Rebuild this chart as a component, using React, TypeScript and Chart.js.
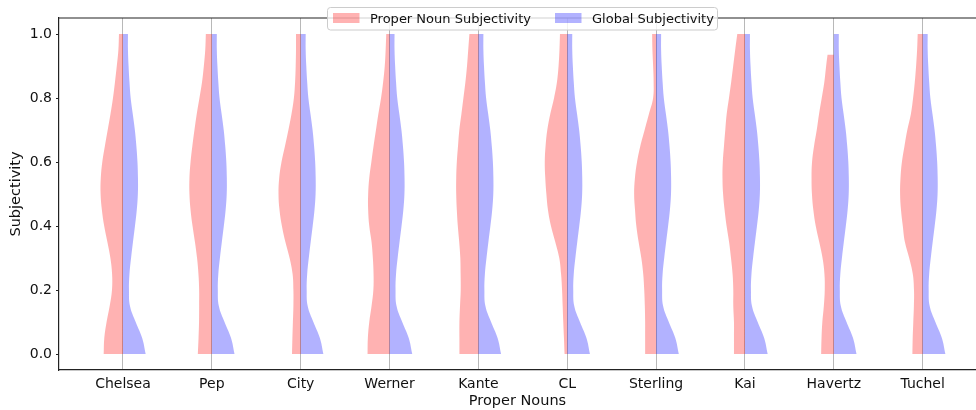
import React, { useEffect, useRef } from 'react';
import { Chart, registerables } from 'chart.js';

Chart.register(...registerables);

// ---------------- data ----------------
const CATEGORIES = ['Chelsea', 'Pep', 'City', 'Werner', 'Kante', 'CL', 'Sterling', 'Kai', 'Havertz', 'Tuchel'];

// subjectivity levels at which the density estimates are read
const Y_LEVELS = [0, 0.05, 0.1, 0.15, 0.2, 0.25, 0.3, 0.35, 0.4, 0.45, 0.5, 0.55, 0.6, 0.65, 0.7, 0.75, 0.8, 0.85, 0.9, 0.95, 1.0];
const Y_TICKS = [0, 0.2, 0.4, 0.6, 0.8, 1.0];

// global subjectivity density (same distribution shown on every right half)
const GLOBAL_DENSITY = [22.7, 19.2, 12.7, 7, 6, 6.5, 8.1, 10, 12, 13.8, 14.9, 15, 14.5, 13.4, 11.9, 9.8, 7.7, 6.5, 5.6, 5, 5];

// proper-noun subjectivity densities (left halves)
const CHELSEA_DENSITY = [19.3, 18.7, 16.4, 13.3, 11, 10.9, 12.6, 15.6, 18.8, 21.1, 22.4, 22.2, 20.7, 18.1, 15.3, 12.5, 10, 8, 6.2, 4.6, 4];
const PEP_DENSITY = [14, 13.3, 12.8, 12.7, 12.7, 13.4, 14.8, 16.9, 19.3, 21.3, 22.4, 22.4, 21.3, 19.5, 17.4, 15.1, 12.4, 9.8, 8, 6.6, 6];
const CITY_DENSITY = [8.7, 8.3, 7.8, 7.3, 7.3, 8.1, 11.1, 15.3, 18.8, 21.2, 22.2, 21.5, 19.2, 15.7, 12.3, 9.2, 6.8, 5.6, 5, 4.7, 4.7];
const WERNER_DENSITY = [22, 21.7, 20.3, 18, 16.2, 16, 16.7, 18, 20.3, 21.4, 21.4, 20.3, 18.2, 16, 13.6, 11.2, 8.5, 6.4, 4.8, 3.9, 3.3];
const KANTE_DENSITY = [19, 19, 19, 18.4, 17.7, 17.8, 18.1, 19.2, 20.6, 21.6, 22.2, 22.2, 21.6, 20.4, 19.1, 17, 15, 13, 11.4, 10.2, 9];
const CL_DENSITY = [2.7, 3.3, 4, 4.6, 5.2, 6.2, 8, 12, 16.3, 19.3, 20.9, 22, 22.5, 21.7, 20, 17, 13.2, 10.3, 8.7, 7.8, 7.3];
const STERLING_DENSITY = [11, 11, 11, 11.3, 11.9, 12.9, 14.8, 17.5, 19.8, 21.1, 22, 21.2, 19.1, 15.8, 11.5, 7.2, 3, 2.5, 3, 3.7, 4];
const KAI_DENSITY = [11, 11, 11, 11.7, 11.7, 12.4, 14, 15.9, 18.4, 20.4, 21.9, 22.5, 22.2, 21, 19.7, 18.3, 16, 13.8, 11.8, 9.8, 7.7];
const HAVERTZ_DENSITY = [12.7, 12.3, 11.5, 10, 9.1, 9.4, 11.3, 14.6, 18.1, 20.5, 21.9, 22.3, 21.8, 19.8, 17.1, 14.8, 12.1, 9.5, 7.7, 5.7, 5.7];
const TUCHEL_DENSITY = [10.3, 10, 9.4, 8.8, 8.7, 9.9, 13.5, 17.8, 19.9, 21.7, 22.6, 22.2, 20.8, 18.2, 15.4, 11.8, 9.6, 7.9, 6.6, 5.6, 5];

// highest observed proper-noun subjectivity per category (violins are cut at data range)
const PROPER_MAX = [1, 1, 1, 1, 1, 1, 1, 1, 0.935, 1];
const GLOBAL_MAX = 1;

const PROPER_DENSITIES = [
  CHELSEA_DENSITY, PEP_DENSITY, CITY_DENSITY, WERNER_DENSITY, KANTE_DENSITY,
  CL_DENSITY, STERLING_DENSITY, KAI_DENSITY, HAVERTZ_DENSITY, TUCHEL_DENSITY,
];

// ---------------- styling ----------------
const DENSITY_TO_X = 1 / 88.9; // density units -> category-axis units
const RED = 'rgba(255,0,0,0.3)';
const BLUE = 'rgba(0,0,255,0.3)';
const SPINE = '#222222';
const GRID = '#b8b8b8';
const FONT = 'DejaVu Sans';

// builds the outline of one half violin; corner points are doubled so the
// spline keeps sharp corners and straight flat ends
function halfViolin(center: number, density: number[], maxY: number, side: number) {
  const edge: { x: number; y: number }[] = [];
  for (let k = 0; k < Y_LEVELS.length; k++) {
    const y = Y_LEVELS[k];
    if (y < maxY - 1e-9) {
      edge.push({ x: center + side * density[k] * DENSITY_TO_X, y });
    } else {
      let w = density[k];
      if (Math.abs(y - maxY) > 1e-9 && k > 0) {
        const t = (maxY - Y_LEVELS[k - 1]) / (y - Y_LEVELS[k - 1]);
        w = density[k - 1] + (density[k] - density[k - 1]) * t;
      }
      edge.push({ x: center + side * w * DENSITY_TO_X, y: maxY });
      break;
    }
  }
  const first = edge[0];
  const last = edge[edge.length - 1];
  return [
    first, { ...first },
    ...edge.slice(1, -1),
    last, { ...last },
    { x: center, y: maxY }, { x: center, y: maxY },
    { x: center, y: 0 }, { x: center, y: 0 },
  ];
}

const overlayPlugin = {
  id: 'overlay',
  afterDraw(chart: any) {
    const { ctx, chartArea } = chart;
    ctx.save();
    // top spine
    ctx.strokeStyle = SPINE;
    ctx.lineWidth = 1.2;
    ctx.beginPath();
    ctx.moveTo(chartArea.left, chartArea.top);
    ctx.lineTo(chartArea.right, chartArea.top);
    ctx.stroke();

    // legend
    const bx = 327.5, by = 7.5, bw = 390, bh = 22.5, r = 3;
    ctx.beginPath();
    ctx.moveTo(bx + r, by);
    ctx.lineTo(bx + bw - r, by);
    ctx.arcTo(bx + bw, by, bx + bw, by + r, r);
    ctx.lineTo(bx + bw, by + bh - r);
    ctx.arcTo(bx + bw, by + bh, bx + bw - r, by + bh, r);
    ctx.lineTo(bx + r, by + bh);
    ctx.arcTo(bx, by + bh, bx, by + bh - r, r);
    ctx.lineTo(bx, by + r);
    ctx.arcTo(bx, by, bx + r, by, r);
    ctx.closePath();
    ctx.fillStyle = 'rgba(255,255,255,0.8)';
    ctx.fill();
    ctx.strokeStyle = '#cccccc';
    ctx.lineWidth = 1;
    ctx.stroke();

    ctx.fillStyle = RED;
    ctx.fillRect(333, 13, 26.5, 10);
    ctx.fillStyle = BLUE;
    ctx.fillRect(555, 13, 26.5, 10);

    ctx.fillStyle = '#111111';
    ctx.font = `13px "${FONT}"`;
    ctx.textAlign = 'left';
    ctx.textBaseline = 'alphabetic';
    ctx.fillText('Proper Noun Subjectivity', 370, 22.7);
    ctx.fillText('Global Subjectivity', 592, 22.7);
    ctx.restore();
  },
};

export default function App() {
  const ref = useRef<HTMLCanvasElement | null>(null);

  useEffect(() => {
    if (!ref.current) return;
    const datasets: any[] = [];
    CATEGORIES.forEach((_, i) => {
      datasets.push({
        label: 'Proper Noun Subjectivity',
        data: halfViolin(i, PROPER_DENSITIES[i], PROPER_MAX[i], -1),
        showLine: true,
        fill: 'shape',
        backgroundColor: RED,
        borderColor: 'rgba(0,0,0,0)',
        borderWidth: 0,
        pointRadius: 0,
        tension: 0.4,
      });
      datasets.push({
        label: 'Global Subjectivity',
        data: halfViolin(i, GLOBAL_DENSITY, GLOBAL_MAX, 1),
        showLine: true,
        fill: 'shape',
        backgroundColor: BLUE,
        borderColor: 'rgba(0,0,0,0)',
        borderWidth: 0,
        pointRadius: 0,
        tension: 0.4,
      });
    });

    const chart = new Chart(ref.current, {
      type: 'scatter',
      data: { datasets },
      options: {
        responsive: false,
        animation: false,
        events: [],
        layout: { padding: { top: 18, right: 0, bottom: 0, left: 0 } },
        plugins: {
          legend: { display: false },
          tooltip: { enabled: false },
        },
        scales: {
          x: {
            type: 'linear',
            min: -0.72,
            max: 9.6,
            afterFit: (s: any) => { s.height = 40; },
            afterBuildTicks: (s: any) => { s.ticks = CATEGORIES.map((_, i) => ({ value: i })); },
            ticks: {
              autoSkip: false,
              maxRotation: 0,
              padding: 6,
              color: '#111111',
              font: { family: FONT, size: 14 },
              callback: (v: any) => CATEGORIES[Math.round(Number(v))] ?? '',
            },
            grid: { display: true, drawOnChartArea: true, drawTicks: false, color: GRID, lineWidth: 1 },
            border: { display: true, color: SPINE, width: 1.2 },
            title: {
              display: true,
              text: 'Proper Nouns',
              color: '#111111',
              font: { family: FONT, size: 14.5 },
              padding: { top: 0, bottom: 0 },
            },
          },
          y: {
            type: 'linear',
            min: -0.05,
            max: 1.05,
            afterFit: (s: any) => { s.width = 59; },
            afterBuildTicks: (s: any) => { s.ticks = Y_TICKS.map((v) => ({ value: v })); },
            ticks: {
              padding: 4,
              color: '#111111',
              font: { family: FONT, size: 14 },
              callback: (v: any) => Number(v).toFixed(1),
            },
            grid: { display: true, drawOnChartArea: false, drawTicks: true, tickLength: 3, tickColor: SPINE, tickWidth: 1 },
            border: { display: true, color: SPINE, width: 1.2 },
            title: {
              display: true,
              text: 'Subjectivity',
              color: '#111111',
              font: { family: FONT, size: 14.5 },
              padding: { top: 8, bottom: 0 },
            },
          },
        },
      },
      plugins: [overlayPlugin],
    });
    return () => chart.destroy();
  }, []);

  return (
    <div style={{ position: 'fixed', left: 0, top: 0, width: 976, height: 410, background: '#ffffff' }}>
      <canvas ref={ref} width={976} height={410} style={{ display: 'block', width: 976, height: 410 }} />
    </div>
  );
}
